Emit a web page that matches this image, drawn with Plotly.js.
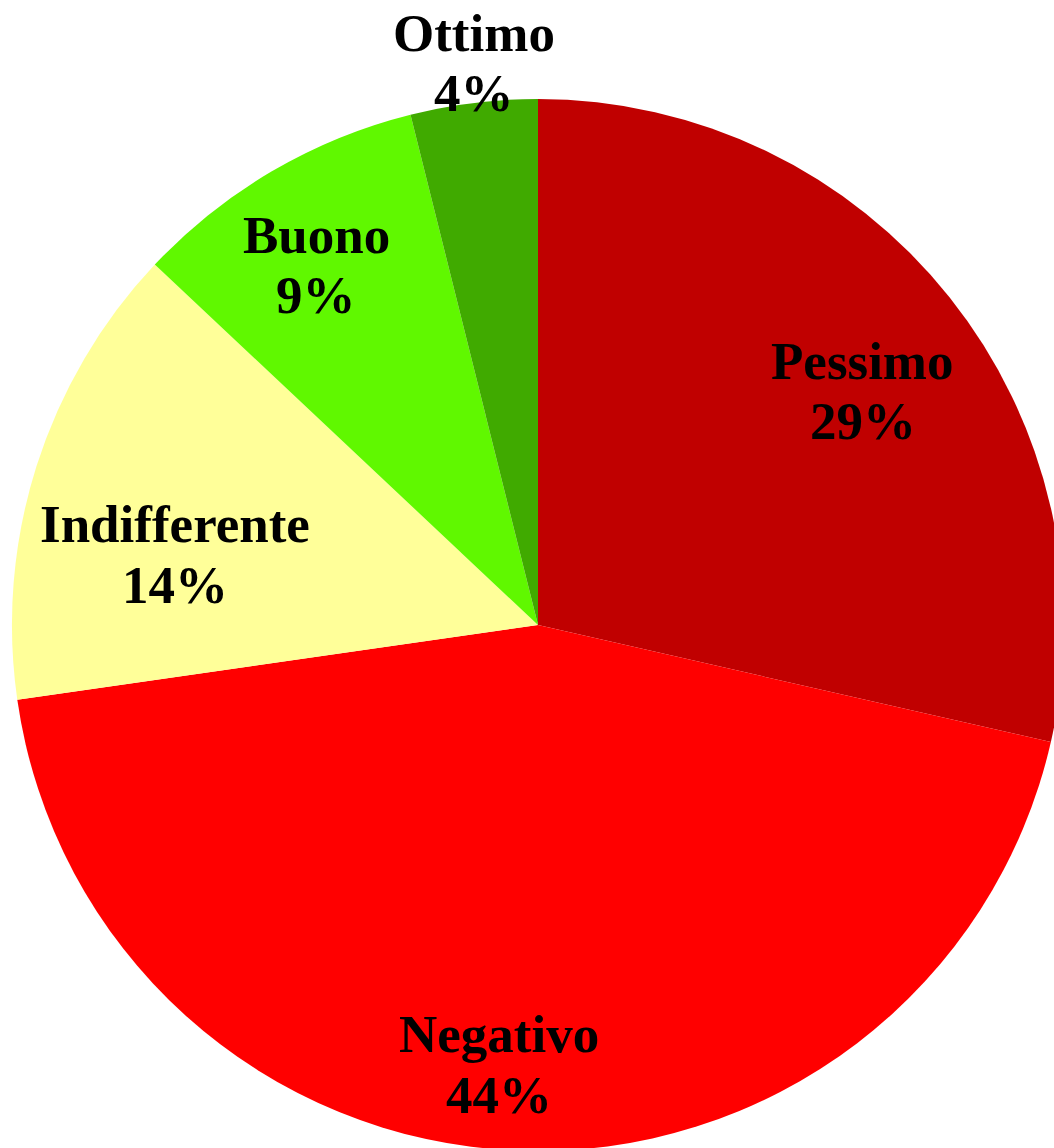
<!DOCTYPE html>
<html>
<head>
<meta charset="utf-8">
<script src="https://cdn.plot.ly/plotly-3.0.1.min.js"></script>
<style>
  html, body { margin: 0; padding: 0; overflow: hidden; background: #ffffff; }
  #chart { width: 1076px; height: 1250px; }
</style>
</head>
<body>
<div id="chart"></div>
<script>
// Data
const categories = ["Pessimo", "Negativo", "Indifferente", "Buono", "Ottimo"];
const counts = [22, 34, 11, 7, 3];
const sliceColors = ["#C00000", "#FF0000", "#FFFF99", "#60F800", "#40AA00"];

// Label placement (pixel centres of each label block in the figure)
const labelPx = [
  [863, 391],
  [499, 1064],
  [175, 554],
  [316, 265],
  [474, 63]
];

const W = 1076, H = 1250;
const FS = 53;
const LINE_GAP = 61;
const total = counts.reduce((a, b) => a + b, 0);

const font = { family: "Liberation Serif, Times New Roman, serif", size: FS, color: "#000000" };
const annotations = [];
categories.forEach((c, i) => {
  const pct = Math.round(counts[i] / total * 100) + "%";
  [[c, -LINE_GAP / 2], [pct, LINE_GAP / 2]].forEach(([txt, dy]) => {
    annotations.push({
      text: "<b>" + txt + "</b>",
      xref: "paper", yref: "paper",
      x: labelPx[i][0] / W,
      y: 1 - (labelPx[i][1] + dy) / H,
      xanchor: "center", yanchor: "middle",
      showarrow: false,
      align: "center",
      font: font
    });
  });
});

const trace = {
  type: "pie",
  labels: categories,
  values: counts,
  sort: false,
  direction: "clockwise",
  rotation: 0,
  marker: { colors: sliceColors, line: { width: 0 } },
  textinfo: "none",
  hoverinfo: "label+percent",
  domain: { x: [0.0111, 0.9889], y: [0, 1] }
};

const layout = {
  width: W,
  height: H,
  margin: { l: 0, r: 0, t: 0, b: 0 },
  paper_bgcolor: "#ffffff",
  showlegend: false,
  annotations: annotations
};

Plotly.newPlot("chart", [trace], layout, { displayModeBar: false, staticPlot: true });
</script>
</body>
</html>
